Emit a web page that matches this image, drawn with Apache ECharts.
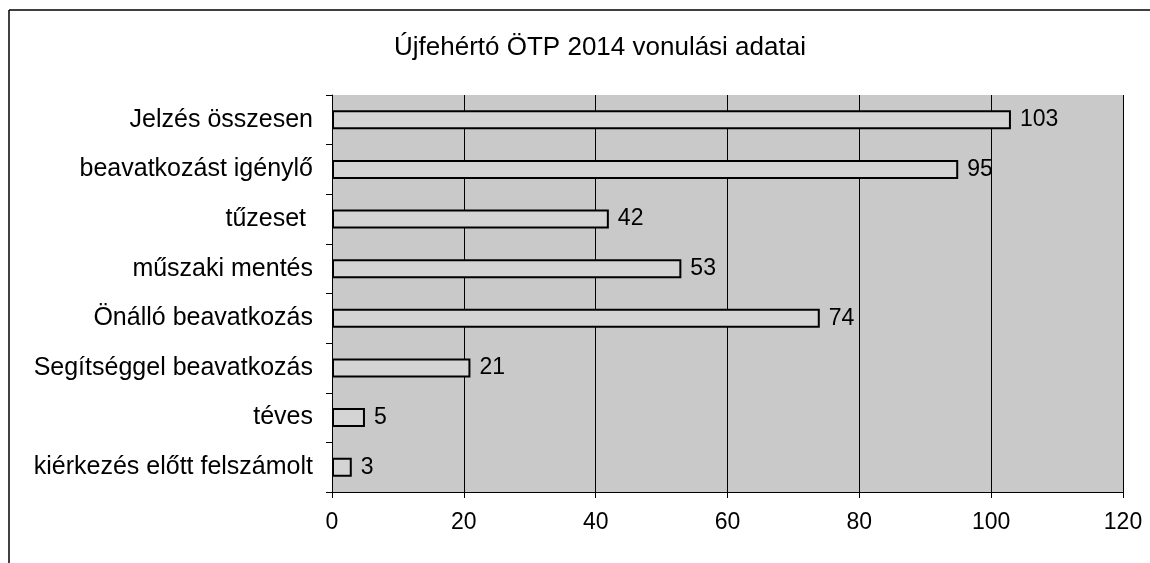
<!DOCTYPE html>
<html>
<head>
<meta charset="utf-8">
<script src="https://cdn.jsdelivr.net/npm/echarts@6/dist/echarts.min.js"></script>
<style>
html,body{margin:0;padding:0;background:#fff;}
#chart{width:1150px;height:563px;}
</style>
</head>
<body>
<div id="chart"></div>
<script>
const titleText = 'Újfehértó ÖTP 2014 vonulási adatai';
const categories = ['Jelzés összesen','beavatkozást igénylő','tűzeset ','műszaki mentés','Önálló beavatkozás','Segítséggel beavatkozás','téves','kiérkezés előtt felszámolt'];
const values = [103, 95, 42, 53, 74, 21, 5, 3];
const xTicks = {min: 0, max: 120, interval: 20};

const chart = echarts.init(document.getElementById('chart'), null, {renderer: 'canvas'});
const font = 'Liberation Sans, Arial, sans-serif';
chart.setOption({
  animation: false,
  backgroundColor: '#ffffff',
  title: {
    text: titleText,
    left: 595, top: 30, textAlign: 'center',
    textStyle: {fontFamily: font, fontSize: 26, fontWeight: 'normal', color: '#000'}
  },
  graphic: [
    {type: 'line', shape: {x1: 9, y1: 10, x2: 1150, y2: 10}, style: {stroke: '#000', lineWidth: 1.5}},
    {type: 'line', shape: {x1: 9, y1: 10, x2: 9, y2: 563}, style: {stroke: '#000', lineWidth: 1.5}}
  ],
  grid: {left: 332, right: 27, top: 95, bottom: 71, containLabel: false,
         show: true, backgroundColor: '#c9c9c9', borderColor: '#555', borderWidth: 0},
  xAxis: {
    type: 'value', min: xTicks.min, max: xTicks.max, interval: xTicks.interval,
    axisLine: {show: true, lineStyle: {color: '#000', width: 1}},
    axisTick: {show: true, length: 6, lineStyle: {color: '#000'}},
    axisLabel: {fontFamily: font, fontSize: 23, color: '#000', margin: 19},
    splitLine: {show: true, lineStyle: {color: '#000', width: 1}}
  },
  yAxis: {
    type: 'category', data: categories, inverse: true,
    axisLine: {show: true, lineStyle: {color: '#000', width: 1}},
    axisTick: {show: true, length: 6, lineStyle: {color: '#000'}},
    axisLabel: {fontFamily: font, fontSize: 25, color: '#000', margin: 19},
    splitLine: {show: false}
  },
  series: [{
    type: 'bar', data: values, barWidth: 19,
    itemStyle: {color: '#d4d4d4', borderColor: '#000', borderWidth: 2},
    label: {show: true, position: 'right', distance: 9, fontFamily: font, fontSize: 23, color: '#000'}
  }]
});
</script>
</body>
</html>
